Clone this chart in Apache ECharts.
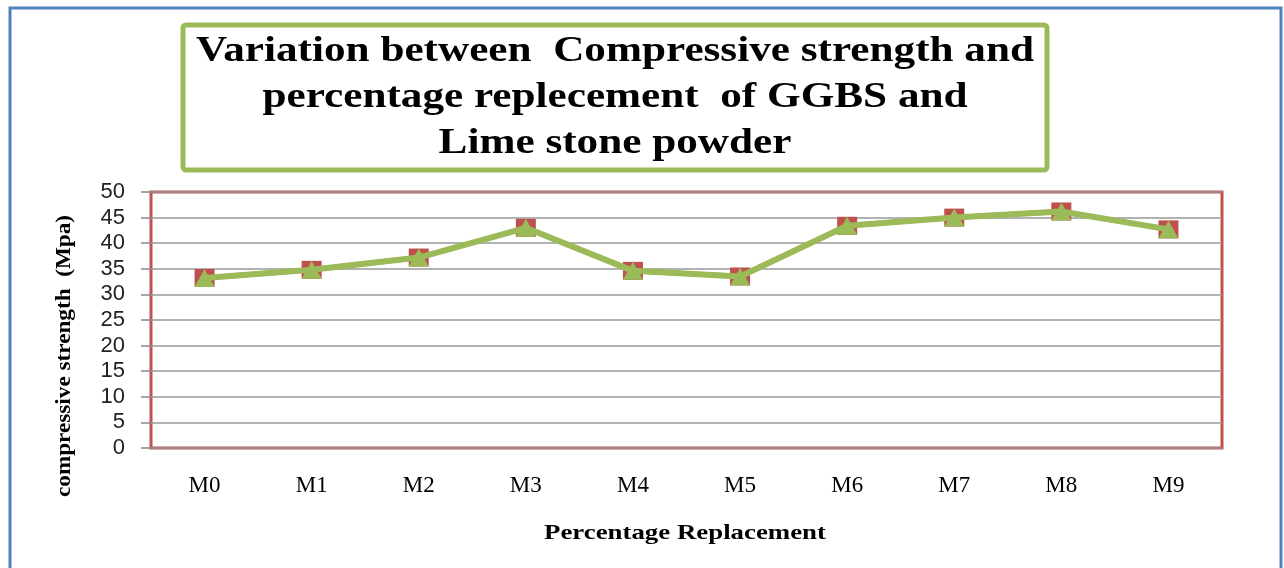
<!DOCTYPE html>
<html>
<head>
<meta charset="utf-8">
<script src="https://cdn.jsdelivr.net/npm/echarts@6/dist/echarts.min.js"></script>
<style>html,body{margin:0;padding:0;background:#fff;}#c{width:1284px;height:568px;}</style>
</head>
<body>
<div id="c"></div>
<script>
const categories = ['M0','M1','M2','M3','M4','M5','M6','M7','M8','M9'];
const seriesA = [33.2, 34.8, 37.2, 43.0, 34.6, 33.5, 43.4, 45.0, 46.2, 42.7];
const seriesB = [33.2, 34.8, 37.2, 43.0, 34.6, 33.5, 43.4, 45.0, 46.2, 42.7];
const yTicks = [0,5,10,15,20,25,30,35,40,45,50];
const titleText = 'Variation between  Compressive strength and\npercentage replecement  of GGBS and\nLime stone powder';
const xTitle = 'Percentage Replacement';
const yTitle = 'compressive strength  (Mpa)';

const chart = echarts.init(document.getElementById('c'), null, {renderer:'canvas'});
chart.setOption({
  backgroundColor:'#fff',
  animation:false,
  graphic:[
    {type:'rect', shape:{x:10,y:8,width:1271,height:600}, style:{fill:'none', stroke:'#4F81BD', lineWidth:3}, z:0},
    {type:'rect', shape:{x:183,y:25,width:864,height:145,r:3}, style:{fill:'#fff', stroke:'#9BBB59', lineWidth:5}, z:1},
    {type:'text', x:615, y:29, scaleX:1.2, style:{text:titleText, fill:'#000', font:'bold 36px "Liberation Serif"', textAlign:'center', textVerticalAlign:'top', lineHeight:46}, z:2},
    {type:'text', x:65, y:356, rotation:Math.PI/2, scaleX:1.16, style:{text:yTitle, fill:'#000', font:'bold 20px "Liberation Serif"', textAlign:'center', textVerticalAlign:'middle'}, z:2},
    {type:'text', x:685, y:533, scaleX:1.22, style:{text:xTitle, fill:'#000', font:'bold 22px "Liberation Serif"', textAlign:'center', textVerticalAlign:'middle'}, z:2}
  ],
  grid:{left:151, top:192, right:62, bottom:120, show:true, borderColor:'#C0504D', borderWidth:3, backgroundColor:'#fff'},
  xAxis:{
    type:'category', data:categories, boundaryGap:true,
    axisLine:{show:false}, axisTick:{show:false},
    axisLabel:{color:'#000', fontFamily:'Liberation Serif', fontSize:23, margin:26}
  },
  yAxis:{
    type:'value', min:0, max:50, interval:5,
    axisLine:{show:false},
    axisTick:{show:true, length:10, lineStyle:{color:'#888', width:1.5}},
    axisLabel:{color:'#222', fontFamily:'Liberation Sans', fontSize:22, margin:26,
      formatter:function(v){return yTicks.indexOf(v)>=0 ? String(v) : '';}},
    splitLine:{show:true, lineStyle:{color:'#999', width:1.5}}
  },
  series:[
    {name:'A', type:'line', data:seriesA, symbol:'rect', symbolSize:[20,18],
      itemStyle:{color:'#C0504D'}, lineStyle:{color:'#C0504D', width:5}, z:3},
    {name:'B', type:'line', data:seriesB, symbol:'triangle', symbolSize:[20,18],
      itemStyle:{color:'#9BBB59'}, lineStyle:{color:'#9BBB59', width:6}, z:4}
  ]
});
</script>
</body>
</html>
